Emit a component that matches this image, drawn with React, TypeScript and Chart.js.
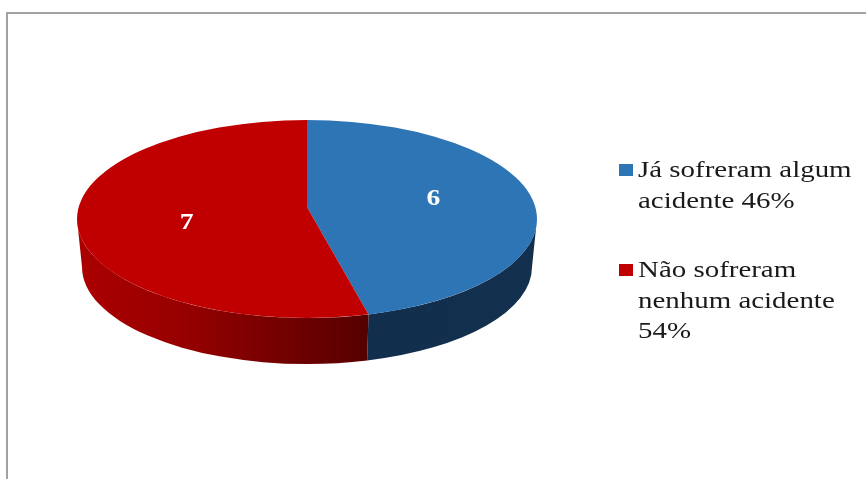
import React, { useEffect, useRef } from "react";
import { Chart, registerables } from "chart.js";

Chart.register(...registerables);

const categories = ["Já sofreram algum acidente 46%", "Não sofreram nenhum acidente 54%"];
const values = [6, 7];
const legendLines = [
  ["Já sofreram algum", "acidente 46%"],
  ["Não sofreram", "nenhum acidente", "54%"],
];
const colors = ["#2e75b6", "#c00000"];

const SQUASH = 99 / 230;
const CENTER_Y = 219;
const APEX_Y = 207;
const ZOOM = 1.2;
const BOTTOM_Y = 267;
const BOTTOM_RX = 225;
const BOTTOM_RY = 97;
const LABEL_DX = [3, 3];
const LABEL_DY = [-2, 9];
const SERIF = '"Liberation Serif", serif';

const wallFill = (ctx: CanvasRenderingContext2D, i: number) => {
  if (i === 0) {
    const g = ctx.createLinearGradient(369, 0, 537, 0);
    g.addColorStop(0, "#122e4d");
    g.addColorStop(1, "#14304f");
    return g;
  }
  const g = ctx.createLinearGradient(78, 0, 369, 0);
  g.addColorStop(0, "#ab0000");
  g.addColorStop(0.35, "#980000");
  g.addColorStop(0.75, "#6e0000");
  g.addColorStop(1, "#560000");
  return g;
};

// Where a ray from the perspective apex at angle `a` leaves the top ellipse,
// given as the ellipse's own parameter.
const rimAngle = (a: number, r: number) => {
  const ry = r * SQUASH;
  const dx = Math.cos(a);
  const dy = SQUASH * Math.sin(a);
  const oy = APEX_Y - CENTER_Y;
  const A = (dx * dx) / (r * r) + (dy * dy) / (ry * ry);
  const B = (2 * oy * dy) / (ry * ry);
  const C = (oy * oy) / (ry * ry) - 1;
  const t = (-B + Math.sqrt(B * B - 4 * A * C)) / (2 * A);
  return Math.atan2((oy + t * dy) / ry, (t * dx) / r);
};

const pie3d = {
  id: "pie3d",
  beforeDraw(chart: any) {
    const { ctx } = chart;
    ctx.save();
    ctx.fillStyle = "#ffffff";
    ctx.fillRect(0, 0, chart.width, chart.height);
    ctx.strokeStyle = "#a2a2a2";
    ctx.lineWidth = 2;
    ctx.beginPath();
    ctx.moveTo(7, chart.height);
    ctx.lineTo(7, 13);
    ctx.lineTo(chart.width, 13);
    ctx.stroke();
    ctx.restore();
  },
  beforeDatasetsDraw(chart: any) {
    const { ctx } = chart;
    const arcs = chart.getDatasetMeta(0).data;
    arcs.forEach((arc: any, i: number) => {
      const r = arc.outerRadius;
      const a0 = arc.startAngle <= 0 ? 0 : rimAngle(arc.startAngle, r);
      const a1 = arc.endAngle >= Math.PI ? Math.PI : rimAngle(arc.endAngle, r);
      if (a1 <= a0) return;
      ctx.save();
      ctx.fillStyle = wallFill(ctx, i);
      ctx.beginPath();
      ctx.ellipse(arc.x, CENTER_Y, r, r * SQUASH, 0, a0, a1);
      ctx.ellipse(arc.x, BOTTOM_Y, BOTTOM_RX, BOTTOM_RY, 0, a1, a0, true);
      ctx.closePath();
      ctx.fill();
      ctx.restore();
    });
    const { x, y, outerRadius: r } = arcs[0];
    ctx.save();
    ctx.beginPath();
    ctx.ellipse(x, CENTER_Y, r, r * SQUASH, 0, 0, Math.PI * 2);
    ctx.clip();
    ctx.translate(x, APEX_Y);
    ctx.scale(ZOOM, ZOOM * SQUASH);
    ctx.translate(-x, -y);
  },
  afterDatasetsDraw(chart: any) {
    const { ctx } = chart;
    ctx.restore();
    const arcs = chart.getDatasetMeta(0).data;

    ctx.save();
    ctx.fillStyle = "#ffffff";
    ctx.font = `bold 24px ${SERIF}`;
    ctx.textAlign = "center";
    ctx.textBaseline = "middle";
    arcs.forEach((arc: any, i: number) => {
      const mid = (arc.startAngle + arc.endAngle) / 2;
      const d = arc.outerRadius * 0.54;
      const x = arc.x + d * Math.cos(mid) + LABEL_DX[i];
      const y = APEX_Y + d * SQUASH * Math.sin(mid) + LABEL_DY[i];
      ctx.save();
      ctx.translate(x, y);
      ctx.scale(1.15, 1);
      ctx.fillText(String(values[i]), 0, 0);
      ctx.restore();
    });
    ctx.restore();

    ctx.save();
    const tops = [164, 264];
    legendLines.forEach((lines, i) => {
      ctx.fillStyle = colors[i];
      ctx.fillRect(619, tops[i], 14, 12);
      ctx.fillStyle = "#1a1a1a";
      ctx.font = `24px ${SERIF}`;
      ctx.textAlign = "left";
      ctx.textBaseline = "alphabetic";
      lines.forEach((line, j) => {
        ctx.save();
        ctx.translate(638, tops[i] + 13 + j * 30.5);
        ctx.scale(1.205, 1);
        ctx.fillText(line, 0, 0);
        ctx.restore();
      });
    });
    ctx.restore();
  },
};

export default function App() {
  const ref = useRef<HTMLCanvasElement>(null);
  useEffect(() => {
    const chart = new Chart(ref.current!, {
      type: "pie",
      data: {
        labels: categories,
        datasets: [{ data: values, backgroundColor: colors, borderWidth: 0 }],
      },
      options: {
        animation: false,
        responsive: false,
        layout: { padding: { left: 77, right: 329, top: 9, bottom: 10 } },
        plugins: { legend: { display: false }, tooltip: { enabled: false } },
      },
      plugins: [pie3d],
    });
    return () => chart.destroy();
  }, []);
  return (
    <canvas
      ref={ref}
      width={866}
      height={479}
      style={{ position: "absolute", left: 0, top: 0, width: 866, height: 479, filter: "blur(0.5px)" }}
    />
  );
}
